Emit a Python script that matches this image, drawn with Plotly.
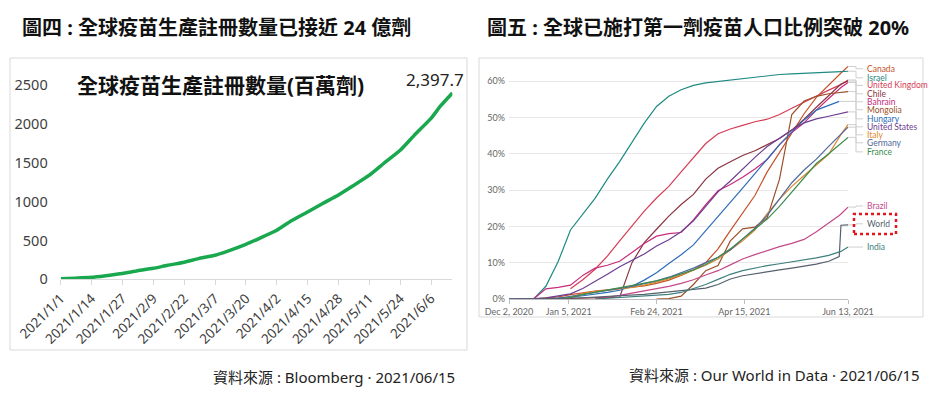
import pandas as pd
import plotly.graph_objects as go

# The page body keeps its default 8px margin, so the figure is drawn 8px in from
# the top-left corner of the window; positions below are window pixels.
OFF = 8
W, H = 942 - OFF, 415 - OFF


def px(x):
    return (x - OFF) / W


def py(y):
    return 1 - (y - OFF) / H


# ---------------- Left chart data (百萬劑) ----------------
dose_dates = ["2021-01-01", "2021-01-07", "2021-01-14", "2021-01-20", "2021-01-27", "2021-02-02",
              "2021-02-09", "2021-02-15", "2021-02-22", "2021-02-28", "2021-03-07", "2021-03-13",
              "2021-03-20", "2021-03-26", "2021-04-02", "2021-04-08", "2021-04-15", "2021-04-21",
              "2021-04-28", "2021-05-04", "2021-05-11", "2021-05-17", "2021-05-24", "2021-05-30",
              "2021-06-06", "2021-06-10", "2021-06-15"]
dose_values = [8, 15, 26, 47, 75, 107, 141, 180, 219, 266, 310, 370, 450, 530, 630, 750, 866, 970,
               1085, 1200, 1340, 1490, 1660, 1855, 2070, 2230, 2397.7]
dose_tick_labels = ["2021/1/1", "2021/1/14", "2021/1/27", "2021/2/9", "2021/2/22", "2021/3/7",
                    "2021/3/20", "2021/4/2", "2021/4/15", "2021/4/28", "2021/5/11", "2021/5/24",
                    "2021/6/6"]
dose_y_ticks = [0, 500, 1000, 1500, 2000, 2500]

# ---------------- Right chart data (% with at least one dose) ----------------
owid_dates = ["2020-12-02", "2020-12-09", "2020-12-16", "2020-12-23", "2020-12-30", "2021-01-06",
              "2021-01-13", "2021-01-20", "2021-01-27", "2021-02-03", "2021-02-10", "2021-02-17",
              "2021-02-24", "2021-03-03", "2021-03-10", "2021-03-17", "2021-03-24", "2021-03-31",
              "2021-04-07", "2021-04-14", "2021-04-21", "2021-04-28", "2021-05-05", "2021-05-12",
              "2021-05-19", "2021-05-26", "2021-06-02", "2021-06-08", "2021-06-09", "2021-06-13"]
N = None
canada = [N, N, 0, 0.2, 0.6, 1.2, 1.8, 2.2, 2.5, 2.8, 3.2, 3.6, 4.3, 5.2, 6.5, 8.0, 10.0, 13.8,
          18.8, 23.5, 28.5, 35.0, 40.3, 45.8, 51.0, 55.5, 59.0, 61.8, 62.2, 64.0]
israel = [0, 0, 0, 3.5, 10.3, 19.0, 23.3, 27.7, 33.0, 37.8, 43.1, 48.4, 53.0, 55.8, 57.6, 58.8,
          59.5, 59.9, 60.3, 60.7, 61.1, 61.5, 61.8, 62.0, 62.2, 62.3, 62.5, 62.6, 62.6, 62.7]
united_kingdom = [N, N, N, N, N, 2.8, 5.3, 8.2, 11.8, 16.0, 20.2, 24.2, 27.8, 31.0, 35.0, 39.0,
                  42.8, 45.5, 46.8, 47.8, 48.8, 49.5, 50.8, 52.5, 54.2, 55.8, 57.5, 58.8, 59.0, 60.3]
chile = [N, N, N, 0, 0.1, 0.2, 0.2, 0.3, 0.3, 0.5, 10.0, 15.5, 19.2, 22.8, 26.0, 28.8, 33.0, 36.0,
         37.8, 39.5, 40.8, 42.5, 44.2, 46.5, 49.5, 52.8, 56.0, 58.8, 59.2, 60.0]
bahrain = [N, N, 0, 2.8, 3.2, 3.8, 6.5, 8.5, 9.3, 10.4, 12.8, 15.3, 17.3, 18.0, 18.3, 21.8, 26.0,
           29.8, 31.5, 33.5, 35.8, 38.4, 42.5, 45.8, 48.5, 52.0, 55.2, 57.8, 58.2, 59.6]
mongolia = [N, N, N, N, N, N, N, N, N, N, N, N, 0, 0.1, 0.8, 4.0, 7.8, 9.2, 16.0, 19.3, 19.8,
            22.3, 33.0, 50.8, 54.5, 55.8, 56.5, 56.8, 56.9, 57.1]
hungary = [N, N, N, 0, 0.2, 0.5, 0.9, 1.3, 1.8, 2.4, 3.5, 5.2, 7.2, 9.8, 12.2, 14.9, 18.8, 22.5,
           26.3, 30.5, 34.5, 38.4, 42.5, 46.0, 49.3, 52.0, 53.4, 54.4, N, N]
united_states = [0, 0, 0.1, 0.3, 0.8, 1.4, 2.9, 4.8, 6.8, 8.9, 10.7, 12.4, 14.6, 16.3, 18.5, 21.5,
                 25.5, 29.5, 32.5, 35.8, 39.0, 42.0, 44.3, 46.5, 48.5, 49.6, 50.3, 51.0, 51.1, 51.5]
italy = [N, N, N, N, 0, 0.5, 1.5, 2.1, 2.4, 2.7, 3.2, 3.8, 4.6, 5.5, 6.6, 8.0, 9.3, 11.0, 13.5,
         16.0, 19.0, 23.5, 27.5, 31.0, 34.0, 37.0, 39.8, 44.5, 45.3, 48.0]
germany = [N, N, N, N, 0.2, 0.7, 1.3, 1.8, 2.3, 2.9, 3.5, 4.2, 5.0, 6.0, 7.2, 8.5, 10.0, 11.5,
           13.5, 16.5, 19.5, 23.0, 27.5, 32.0, 35.5, 38.5, 42.0, 45.0, 45.5, 47.3]
france = [N, N, N, N, 0, 0.4, 1.2, 1.8, 2.4, 3.0, 3.6, 4.3, 5.0, 5.8, 6.8, 8.0, 9.5, 11.5, 13.8,
          16.5, 19.2, 22.0, 25.5, 29.5, 33.5, 37.3, 40.0, 42.5, 43.0, 44.5]
brazil = [N, N, N, N, N, N, N, 0, 0.4, 1.0, 1.6, 2.2, 2.8, 3.5, 4.3, 5.3, 6.6, 7.8, 9.4, 11.0,
          12.2, 13.4, 14.4, 15.3, 16.4, 18.5, 20.8, 23.0, 23.4, 25.3]
world = [0, 0, 0.01, 0.05, 0.1, 0.2, 0.35, 0.5, 0.7, 0.9, 1.1, 1.3, 1.6, 1.9, 2.2, 2.5, 3.0, 4.0,
         5.5, 6.4, 7.0, 7.6, 8.0, 8.5, 9.0, 9.6, 10.4, 11.7, 20.3, 20.4]
india = [N, N, N, N, N, N, N, 0, 0.2, 0.4, 0.6, 0.8, 1.0, 1.3, 1.8, 2.8, 4.0, 5.4, 6.8, 7.8, 8.6,
         9.2, 9.7, 10.2, 10.8, 11.3, 12.0, 12.9, 13.1, 14.3]

country_names = ["Canada", "Israel", "United Kingdom", "Chile", "Bahrain", "Mongolia", "Hungary",
                 "United States", "Italy", "Germany", "France", "Brazil", "World", "India"]
country_series = [canada, israel, united_kingdom, chile, bahrain, mongolia, hungary,
                  united_states, italy, germany, france, brazil, world, india]
owid_tick_labels = ["Dec 2, 2020", "Jan 5, 2021", "Feb 24, 2021", "Apr 15, 2021", "Jun 13, 2021"]
owid_y_ticks = [0, 10, 20, 30, 40, 50, 60]

# ---------------- styles / layout ----------------
country_colors = ["#C4522A", "#1F8A83", "#D63C55", "#8A3540", "#C92C7C", "#9A5129", "#2D6DB8",
                  "#6D3E91", "#DE8A2E", "#50699C", "#3B8C4C", "#C4488A", "#55606E", "#3E807D"]
label_y = [63.4, 60.9, 58.8, 56.5, 54.3, 52.1, 49.6, 47.4, 45.2, 43.0, 40.5, 25.6, 20.7, 14.3]

CJK = "Noto Sans, Noto Sans CJK TC"
LATIN = "Lato"

L_X0, L_X1 = px(60.7), px(452.4)
L_Y0, L_Y1 = py(279.3), py(85)
R_X0, R_X1 = px(509), px(848)
R_Y0, R_Y1 = py(299), py(64.7)
left_range = ["2021-01-01", "2021-06-15"]
right_range = ["2020-12-02", "2021-06-13"]

fig = go.Figure()

fig.add_trace(go.Scatter(
    x=dose_dates, y=dose_values, mode="lines",
    line=dict(color="#1AA84F", width=3.5, shape="spline", smoothing=0.5),
    xaxis="x", yaxis="y", hoverinfo="skip", showlegend=False))

for name, vals, col in zip(country_names, country_series, country_colors):
    fig.add_trace(go.Scatter(
        x=owid_dates, y=vals, mode="lines", name=name,
        line=dict(color=col, width=1.2),
        xaxis="x2", yaxis="y2", hoverinfo="skip", showlegend=False))

annotations = []
shapes = []

# Titles
annotations.append(dict(text="<b>圖四 : 全球疫苗生產註冊數量已接近 24 億劑</b>", xref="paper", yref="paper",
                        x=px(20), y=py(28), xanchor="left", yanchor="middle", showarrow=False,
                        font=dict(family=CJK, size=20, color="#111111")))
annotations.append(dict(text="<b>圖五 : 全球已施打第一劑疫苗人口比例突破 20%</b>", xref="paper", yref="paper",
                        x=px(485), y=py(28), xanchor="left", yanchor="middle", showarrow=False,
                        font=dict(family=CJK, size=20, color="#111111")))
# Sources
annotations.append(dict(text="資料來源 : Bloomberg · 2021/06/15", xref="paper", yref="paper",
                        x=px(457), y=py(377), xanchor="right", yanchor="middle", showarrow=False,
                        font=dict(family=CJK, size=15, color="#222222")))
annotations.append(dict(text="資料來源 : Our World in Data · 2021/06/15", xref="paper", yref="paper",
                        x=px(922), y=py(375), xanchor="right", yanchor="middle", showarrow=False,
                        font=dict(family=CJK, size=15, color="#222222")))
# Left inner title
annotations.append(dict(text="<b>全球疫苗生產註冊數量(百萬劑)</b>", xref="paper", yref="paper",
                        x=px(220), y=py(85), xanchor="center", yanchor="middle", showarrow=False,
                        font=dict(family=CJK, size=21, color="#111111")))
# last value label
annotations.append(dict(text=f"{dose_values[-1]:,.1f}", xref="x", yref="y",
                        x=dose_dates[-1], y=dose_values[-1], xanchor="right", yanchor="bottom",
                        xshift=14, yshift=0, showarrow=False,
                        font=dict(family=CJK, size=17, color="#222222")))

# Right chart end labels + connectors
d_start = pd.Timestamp(right_range[0])
d_end = pd.Timestamp(right_range[1])
span = (d_end - d_start).days
elbow_x = px(856)
label_x = px(865)
for name, vals, col, ly in zip(country_names, country_series, country_colors, label_y):
    last_i = max(i for i, v in enumerate(vals) if v is not None)
    last_v = vals[last_i]
    frac = (pd.Timestamp(owid_dates[last_i]) - d_start).days / span
    x_end = R_X0 + frac * (R_X1 - R_X0)
    shapes.append(dict(type="path", xref="paper", yref="y2",
                       path=f"M {x_end},{last_v} L {elbow_x},{last_v} L {elbow_x},{ly} L {label_x - 2 / W},{ly}",
                       line=dict(color="#cfcfcf", width=1)))
    annotations.append(dict(text=name, xref="paper", yref="y2", x=label_x, y=ly,
                            xanchor="left", yanchor="middle", showarrow=False,
                            font=dict(family=LATIN, size=8.5, color=col)))

# Panel borders
shapes.append(dict(type="rect", xref="paper", yref="paper", x0=px(10), x1=px(467), y0=py(350), y1=py(58),
                   line=dict(color="#d9d9d9", width=1), fillcolor="rgba(0,0,0,0)", layer="below"))
shapes.append(dict(type="rect", xref="paper", yref="paper", x0=px(479), x1=px(923), y0=py(317), y1=py(58),
                   line=dict(color="#d9d9d9", width=1), fillcolor="rgba(0,0,0,0)", layer="below"))
# red dotted box around "World"
shapes.append(dict(type="rect", xref="paper", yref="paper", x0=px(854), x1=px(896), y0=py(234), y1=py(214),
                   line=dict(color="#E3161E", width=2.5, dash="dot"), fillcolor="rgba(0,0,0,0)"))

fig.update_layout(
    width=W, height=H, autosize=False,
    margin=dict(l=0, r=0, t=0, b=0, pad=0),
    paper_bgcolor="white", plot_bgcolor="white",
    showlegend=False,
    annotations=annotations, shapes=shapes,
    xaxis=dict(type="date", domain=[L_X0, L_X1], range=left_range, anchor="y", automargin=False,
               tickvals=pd.to_datetime(dose_tick_labels, format="%Y/%m/%d"), ticktext=dose_tick_labels,
               tickangle=-45, tickfont=dict(family=CJK, size=13.5, color="#404040"),
               showline=True, linecolor="#d9d9d9", linewidth=1, ticks="outside", ticklen=5,
               tickcolor="#d9d9d9", showgrid=False, zeroline=False, fixedrange=True),
    yaxis=dict(domain=[L_Y0, L_Y1], range=[0, 2500], anchor="x", automargin=False,
               tickvals=dose_y_ticks, ticktext=[str(v) for v in dose_y_ticks],
               tickfont=dict(family=CJK, size=14.5, color="#404040"), showgrid=False, zeroline=False,
               showline=False, ticks="", ticklabelstandoff=12, fixedrange=True),
    xaxis2=dict(type="date", domain=[R_X0, R_X1], range=right_range, anchor="y2", automargin=False,
                tickvals=pd.to_datetime(owid_tick_labels, format="%b %d, %Y"), ticktext=owid_tick_labels,
                tickangle=0, tickfont=dict(family=LATIN, size=9, color="#666666"),
                showline=True, linecolor="#bdbdbd", linewidth=1, ticks="outside", ticklen=4,
                tickcolor="#bdbdbd", showgrid=False, zeroline=False, fixedrange=True),
    yaxis2=dict(domain=[R_Y0, R_Y1], range=[0, 64.5], anchor="x2", automargin=False,
                tickvals=owid_y_ticks, ticktext=[f"{v}%" for v in owid_y_ticks],
                tickfont=dict(family=LATIN, size=9, color="#666666"),
                showgrid=True, gridcolor="#e8e8e8", gridwidth=1, zeroline=False, showline=False,
                ticks="", ticklabelstandoff=3, fixedrange=True),
)

fig.write_html("out.html")
